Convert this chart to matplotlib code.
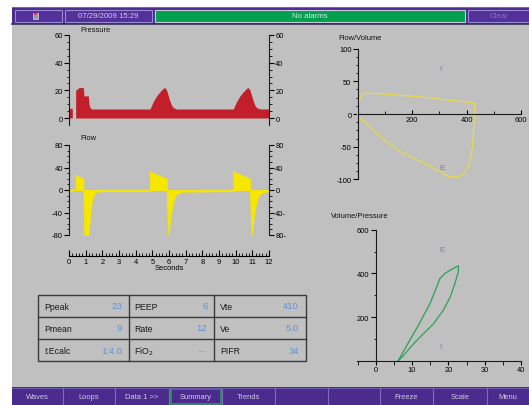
import matplotlib
matplotlib.use("Agg")
import matplotlib.pyplot as plt
from matplotlib.patches import Rectangle
from matplotlib.ticker import FixedLocator, NullFormatter

plt.rcParams['font.family'] = ['Liberation Sans', 'DejaVu Sans']
plt.rcParams['axes.unicode_minus'] = False

W, H = 529, 406

# ---------------- data ----------------
header_date = "07/29/2009 15:29"
alarm_text = "No alarms"
clear_text = "Clear"

pressure_t = [0, 0.2, 0.2, 0.4, 0.4, 0.6, 0.86, 0.9, 1.16, 1.2, 1.26, 1.36,
              4.86, 5.06, 5.26, 5.46, 5.66, 5.76, 5.86, 5.96, 6.06, 6.16, 6.26, 6.46,
              9.86, 10.06, 10.26, 10.46, 10.66, 10.76, 10.86, 10.96, 11.06, 11.16, 11.26, 11.46,
              12]
pressure_v = [7, 7, 0, 0, 20, 22, 22, 16, 16, 10, 7.5, 6.5,
              6.5, 12, 16, 19, 21.5, 22, 20, 16, 12, 9, 7.5, 6.5,
              6.5, 12, 16, 19, 21.5, 22, 20, 16, 12, 9, 7.5, 6.5,
              6.5]

flow_t = [0, 0.2, 0.2, 0.4, 0.4, 0.86, 0.86, 0.92, 1.16, 1.22, 1.26, 1.32, 1.38, 1.46, 1.66, 2.06,
          4.86, 4.86, 5.86, 5.86, 5.9, 5.96, 6.02, 6.1, 6.2, 6.3, 6.46, 6.76,
          9.86, 9.86, 10.86, 10.86, 10.9, 10.96, 11.02, 11.1, 11.2, 11.3, 11.46, 11.76,
          12]
flow_v = [-2, -2, 0, 0, 27, 20, 0, -80, -80, -60, -45, -30, -18, -8, -3, -2,
          -2, 33, 20, 0, -40, -80, -65, -45, -28, -15, -7, -3,
          -2, 33, 20, 0, -40, -80, -65, -45, -28, -15, -7, -3,
          -2]

pressure_ticks = [0, 20, 40, 60]
flow_ticks = [-80, -40, 0, 40, 80]
flow_left_labels = ["-80", "-40", "0", "40", "80"]
flow_right_labels = ["80-", "40-", "0", "40", "80"]
seconds_ticks = list(range(0, 13))

fv_volume = [0, 0, 6, 15, 21, 82, 143, 204, 266, 327, 388, 427, 431, 429, 425, 419, 406.5,
             388, 370, 333, 315, 266, 204, 143, 94, 45, 8.6, 0]
fv_flow = [0, 4, 20, 30, 32, 31, 29, 27, 25, 21.5, 19, 17, 15, 0, -31, -61.5, -79.5,
           -92, -96, -96, -91, -79.5, -67, -54, -38.5, -19.5, -6, 0]

vp_pressure = [6.2, 8.53, 11.74, 14.95, 16.8, 17.7, 19.1, 20.9, 22.75,
               22.75, 21.8, 20.5, 18.6, 15.9, 13.1, 10.4, 7.2, 6.2]
vp_volume = [0, 69, 161.5, 261.5, 338.5, 377, 400, 418.5, 435,
             407.7, 354, 292, 231, 169, 123, 77, 15.4, 0]

table_rows = [
    [("Ppeak", "23"), ("PEEP", "6"), ("Vte", "410")],
    [("Pmean", "9"), ("Rate", "12"), ("Ve", "5.0")],
    [("I:Ecalc", "1:4.0"), ("FiO$_2$", "---"), ("PIFR", "34")],
]

buttons = ["Waves", "Loops", "Data 1 >>", "Summary", "Trends", "", "", "Freeze", "Scale", "Menu"]
active_button = "Summary"

# ---------------- colours ----------------
GRAY = "#c0c0c0"
PURPLE = "#4b2c8e"
PURPLE_EDGE = "#9a88d0"
BTN_TEXT = "#d2cbe8"
RED = "#c21f2a"
YELLOW = "#f7e600"
LOOP_Y = "#e9d94a"
GREEN_LOOP = "#2f9f58"
VAL_BLUE = "#5f93d6"
LBL_PURPLE = "#8a6ec4"

fig = plt.figure(figsize=(W / 100, H / 100), dpi=100)
fig.patch.set_facecolor("white")


def rect(x0, y0, x1, y1):
    return [x0 / W, 1 - y1 / H, (x1 - x0) / W, (y1 - y0) / H]


# ---------------- UI layer ----------------
ui = fig.add_axes([0, 0, 1, 1], zorder=0)
ui.set_xlim(0, W)
ui.set_ylim(H, 0)
ui.axis("off")

ui.add_patch(Rectangle((11.5, 25), W - 11.5, 363, color=GRAY, lw=0))
ui.add_patch(Rectangle((11.5, 7.5), W - 11.5, 17.5, color=PURPLE, lw=0))
ui.plot([11.5, W], [25, 25], color="#35305a", lw=1.2)
ui.plot([11.5, W], [8, 8], color="#7a62c0", lw=0.8)

# top buttons
ui.add_patch(Rectangle((15, 11), 47, 11.7, facecolor="#52329a", edgecolor=PURPLE_EDGE, lw=0.8))
ui.add_patch(Rectangle((33, 13.5), 4.5, 6.5, facecolor="#9a9aa8", edgecolor="#d8d8e8", lw=0.5))
ui.add_patch(Rectangle((33.5, 14), 3.5, 2, facecolor="#d04050", lw=0))
ui.add_patch(Rectangle((65, 11), 87, 11.7, facecolor="#52329a", edgecolor=PURPLE_EDGE, lw=0.8))
ui.text(108.5, 17, header_date, ha="center", va="center", fontsize=5.6, color=BTN_TEXT)
ui.add_patch(Rectangle((155, 11), 310, 11.7, facecolor="#00a04c", edgecolor="#c8c8e0", lw=0.8))
ui.text(310, 17, alarm_text, ha="center", va="center", fontsize=5.6, color="#d8e8f0")
ui.add_patch(Rectangle((468, 11), 70, 11.7, facecolor="#52329a", edgecolor=PURPLE_EDGE, lw=0.8))
ui.text(498.5, 17, clear_text, ha="center", va="center", fontsize=5.6, color="#8576b8")

# bottom buttons
ui.add_patch(Rectangle((11.5, 388), W - 11.5, 18, color=PURPLE, lw=0))
ui.plot([11.5, W], [388.5, 388.5], color="#6a58a8", lw=0.8)
edges = [11.7, 63, 115, 169, 222, 275, 328, 380, 433, 487, 529]
for i, name in enumerate(buttons):
    x0, x1 = edges[i], edges[i + 1]
    ui.plot([x1, x1], [389, 406], color="#7d6cbc", lw=0.8)
    if name == active_button:
        ui.add_patch(Rectangle((x0 + 1.5, 390), x1 - x0 - 3, 15, facecolor="none",
                               edgecolor="#1ea050", lw=1.2))
    if name:
        ui.text((x0 + x1) / 2, 398, name, ha="center", va="center", fontsize=5.4, color=BTN_TEXT)

# table
col_x = [38.3, 129, 214.3, 305.7]
row_y = [295.7, 317.7, 340, 362.3]
ui.add_patch(Rectangle((col_x[0], row_y[0]), col_x[-1] - col_x[0], row_y[-1] - row_y[0],
                       facecolor="none", edgecolor="#3a3a3a", lw=1.0))
for x in col_x[1:-1]:
    ui.plot([x, x], [row_y[0], row_y[-1]], color="#3a3a3a", lw=1.0)
for y in row_y[1:-1]:
    ui.plot([col_x[0], col_x[-1]], [y, y], color="#3a3a3a", lw=1.0)
for r, row in enumerate(table_rows):
    yc = (row_y[r] + row_y[r + 1]) / 2
    for c, (lab, val) in enumerate(row):
        ui.text(col_x[c] + 5.5, yc + 0.5, lab, ha="left", va="center", fontsize=6.3, color="#1a1a1a")
        vcol = "#a4a4a4" if val == "---" else VAL_BLUE
        ui.text(col_x[c + 1] - 7, yc, val, ha="right", va="center", fontsize=6.8, color=vcol)

# titles
ui.text(80, 30, "Pressure", ha="left", va="center", fontsize=5.4, color="#111111")
ui.text(80, 139, "Flow", ha="left", va="center", fontsize=5.4, color="#111111")
ui.text(338, 38, "Flow/Volume", ha="left", va="center", fontsize=5.4, color="#111111")
ui.text(331, 216.5, "Volume/Pressure", ha="left", va="center", fontsize=5.4, color="#111111")

TICKFS = 5.4


def wave_axes(ax):
    ax.patch.set_alpha(0)
    for s in ("top", "bottom"):
        ax.spines[s].set_visible(False)
    for s in ("left", "right"):
        ax.spines[s].set_color("#1a1a1a")
        ax.spines[s].set_linewidth(0.8)
    ax.set_xticks([])
    ax.tick_params(axis="y", which="major", direction="out", length=3.5, width=0.8,
                   labelsize=TICKFS, pad=1, left=True, right=True, labelright=True)
    ax.tick_params(axis="y", which="minor", direction="out", length=1.8, width=0.6,
                   left=True, right=True)


# ---------------- pressure ----------------
p_scale = 83 / 60
axp = fig.add_axes(rect(69, 36 - 2 * p_scale, 269, 119 + 5 * p_scale), zorder=1)
axp.fill_between(pressure_t, 0, pressure_v, color=RED, lw=0)
axp.set_xlim(0, 12)
axp.set_ylim(-5, 62)
wave_axes(axp)
axp.spines["left"].set_bounds(-5, 60)
axp.spines["right"].set_bounds(-5, 60)
axp.set_yticks(pressure_ticks)
axp.yaxis.set_minor_locator(FixedLocator([v for v in range(0, 61, 5) if v % 20]))

# ---------------- flow ----------------
f_scale = 90 / 160
axf = fig.add_axes(rect(69, 146 - 5 * f_scale, 269, 236 + 5 * f_scale), zorder=1)
axf.fill_between(flow_t, 0, flow_v, color=YELLOW, lw=0.6, edgecolor=YELLOW)
axf.set_xlim(0, 12)
axf.set_ylim(-85, 85)
wave_axes(axf)
axf.spines["left"].set_bounds(-80, 80)
axf.spines["right"].set_bounds(-80, 80)
axf.set_yticks(flow_ticks)
axf.set_yticklabels(flow_left_labels)
axf.yaxis.set_minor_locator(FixedLocator([v for v in range(-80, 81, 10) if v % 40]))
axr = axf.secondary_yaxis("right")
axr.set_yticks(flow_ticks)
axr.set_yticklabels(flow_right_labels)
axr.spines["right"].set_visible(False)
axr.tick_params(axis="y", which="both", length=0, labelsize=TICKFS, pad=4.5)
axf.tick_params(axis="y", labelright=False)

# ---------------- seconds axis ----------------
axs = fig.add_axes(rect(69, 249, 269, 257), zorder=1)
axs.patch.set_alpha(0)
for s in ("top", "left", "right"):
    axs.spines[s].set_visible(False)
axs.spines["bottom"].set_linewidth(0.8)
axs.set_xlim(0, 12)
axs.set_yticks([])
axs.set_xticks(seconds_ticks)
axs.xaxis.set_minor_locator(FixedLocator([i * 0.2 for i in range(61)]))
axs.tick_params(axis="x", which="major", direction="in", length=4, width=0.8,
                labelsize=TICKFS, pad=1.5)
axs.tick_params(axis="x", which="minor", direction="in", length=2, width=0.6)
axs.set_xlabel("Seconds", fontsize=TICKFS, labelpad=-1)


# ---------------- flow/volume loop ----------------
fv_sx = 163.3 / 600
fv_sy = 130.7 / 200
axfv = fig.add_axes(rect(357.7, 115 - 105 * fv_sy, 357.7 + 605 * fv_sx, 115 + 105 * fv_sy), zorder=1)
axfv.patch.set_alpha(0)
axfv.plot(fv_volume, fv_flow, color=LOOP_Y, lw=0.9, clip_on=False)
axfv.set_xlim(0, 605)
axfv.set_ylim(-105, 105)
for s in ("top", "right"):
    axfv.spines[s].set_visible(False)
axfv.spines["left"].set_position(("data", 0))
axfv.spines["bottom"].set_position(("data", 0))
axfv.spines["left"].set_bounds(-100, 100)
axfv.spines["bottom"].set_bounds(0, 600)
for s in ("left", "bottom"):
    axfv.spines[s].set_linewidth(0.8)
    axfv.spines[s].set_color("#1a1a1a")
axfv.set_yticks([-100, -50, 0, 50, 100])
axfv.yaxis.set_minor_locator(FixedLocator([v * 12.5 for v in range(-8, 9) if v % 4]))
axfv.set_xticks([200, 400, 600])
axfv.xaxis.set_minor_locator(FixedLocator([100, 300, 500]))
axfv.tick_params(axis="y", which="major", direction="out", length=3.5, width=0.8, labelsize=TICKFS, pad=1)
axfv.tick_params(axis="y", which="minor", direction="out", length=1.8, width=0.6)
axfv.tick_params(axis="x", which="major", direction="in", length=3, width=0.8, labelsize=TICKFS, pad=1.5)
axfv.tick_params(axis="x", which="minor", direction="in", length=2, width=0.6)
axfv.text(302, 69, "I", color=LBL_PURPLE, fontsize=6, ha="center", va="center")
axfv.text(311, -82, "E", color=LBL_PURPLE, fontsize=6, ha="center", va="center")

# ---------------- volume/pressure loop ----------------
vp_sx = 36.33 / 10
vp_sy = 131 / 600
axvp = fig.add_axes(rect(375.7 - 5.5 * vp_sx, 361.7 - 615 * vp_sy,
                         375.7 + 40.5 * vp_sx, 361.7 + 15 * vp_sy), zorder=1)
axvp.patch.set_alpha(0)
axvp.plot(vp_pressure, vp_volume, color=GREEN_LOOP, lw=0.9, clip_on=False)
axvp.set_xlim(-5.5, 40.5)
axvp.set_ylim(-15, 615)
for s in ("top", "right"):
    axvp.spines[s].set_visible(False)
axvp.spines["left"].set_position(("data", 0))
axvp.spines["bottom"].set_position(("data", 0))
axvp.spines["left"].set_bounds(0, 600)
axvp.spines["bottom"].set_bounds(-5.2, 40)
for s in ("left", "bottom"):
    axvp.spines[s].set_linewidth(0.8)
    axvp.spines[s].set_color("#1a1a1a")
axvp.set_yticks([200, 400, 600])
axvp.yaxis.set_minor_locator(FixedLocator([100, 300, 500]))
axvp.set_xticks([0, 10, 20, 30, 40])
axvp.xaxis.set_minor_locator(FixedLocator([-5, 5, 15, 25, 35]))
axvp.tick_params(axis="y", which="major", direction="out", length=3.5, width=0.8, labelsize=TICKFS, pad=1)
axvp.tick_params(axis="y", which="minor", direction="out", length=1.8, width=0.6)
axvp.tick_params(axis="x", which="major", direction="out", length=3, width=0.8, labelsize=TICKFS, pad=1)
axvp.tick_params(axis="x", which="minor", direction="out", length=3, width=0.6)
axvp.text(18.2, 511, "E", color=LBL_PURPLE, fontsize=6, ha="center", va="center")
axvp.text(17.7, 65, "I", color=LBL_PURPLE, fontsize=6, ha="center", va="center")

fig.savefig("out.png", dpi=100, facecolor=fig.get_facecolor())
